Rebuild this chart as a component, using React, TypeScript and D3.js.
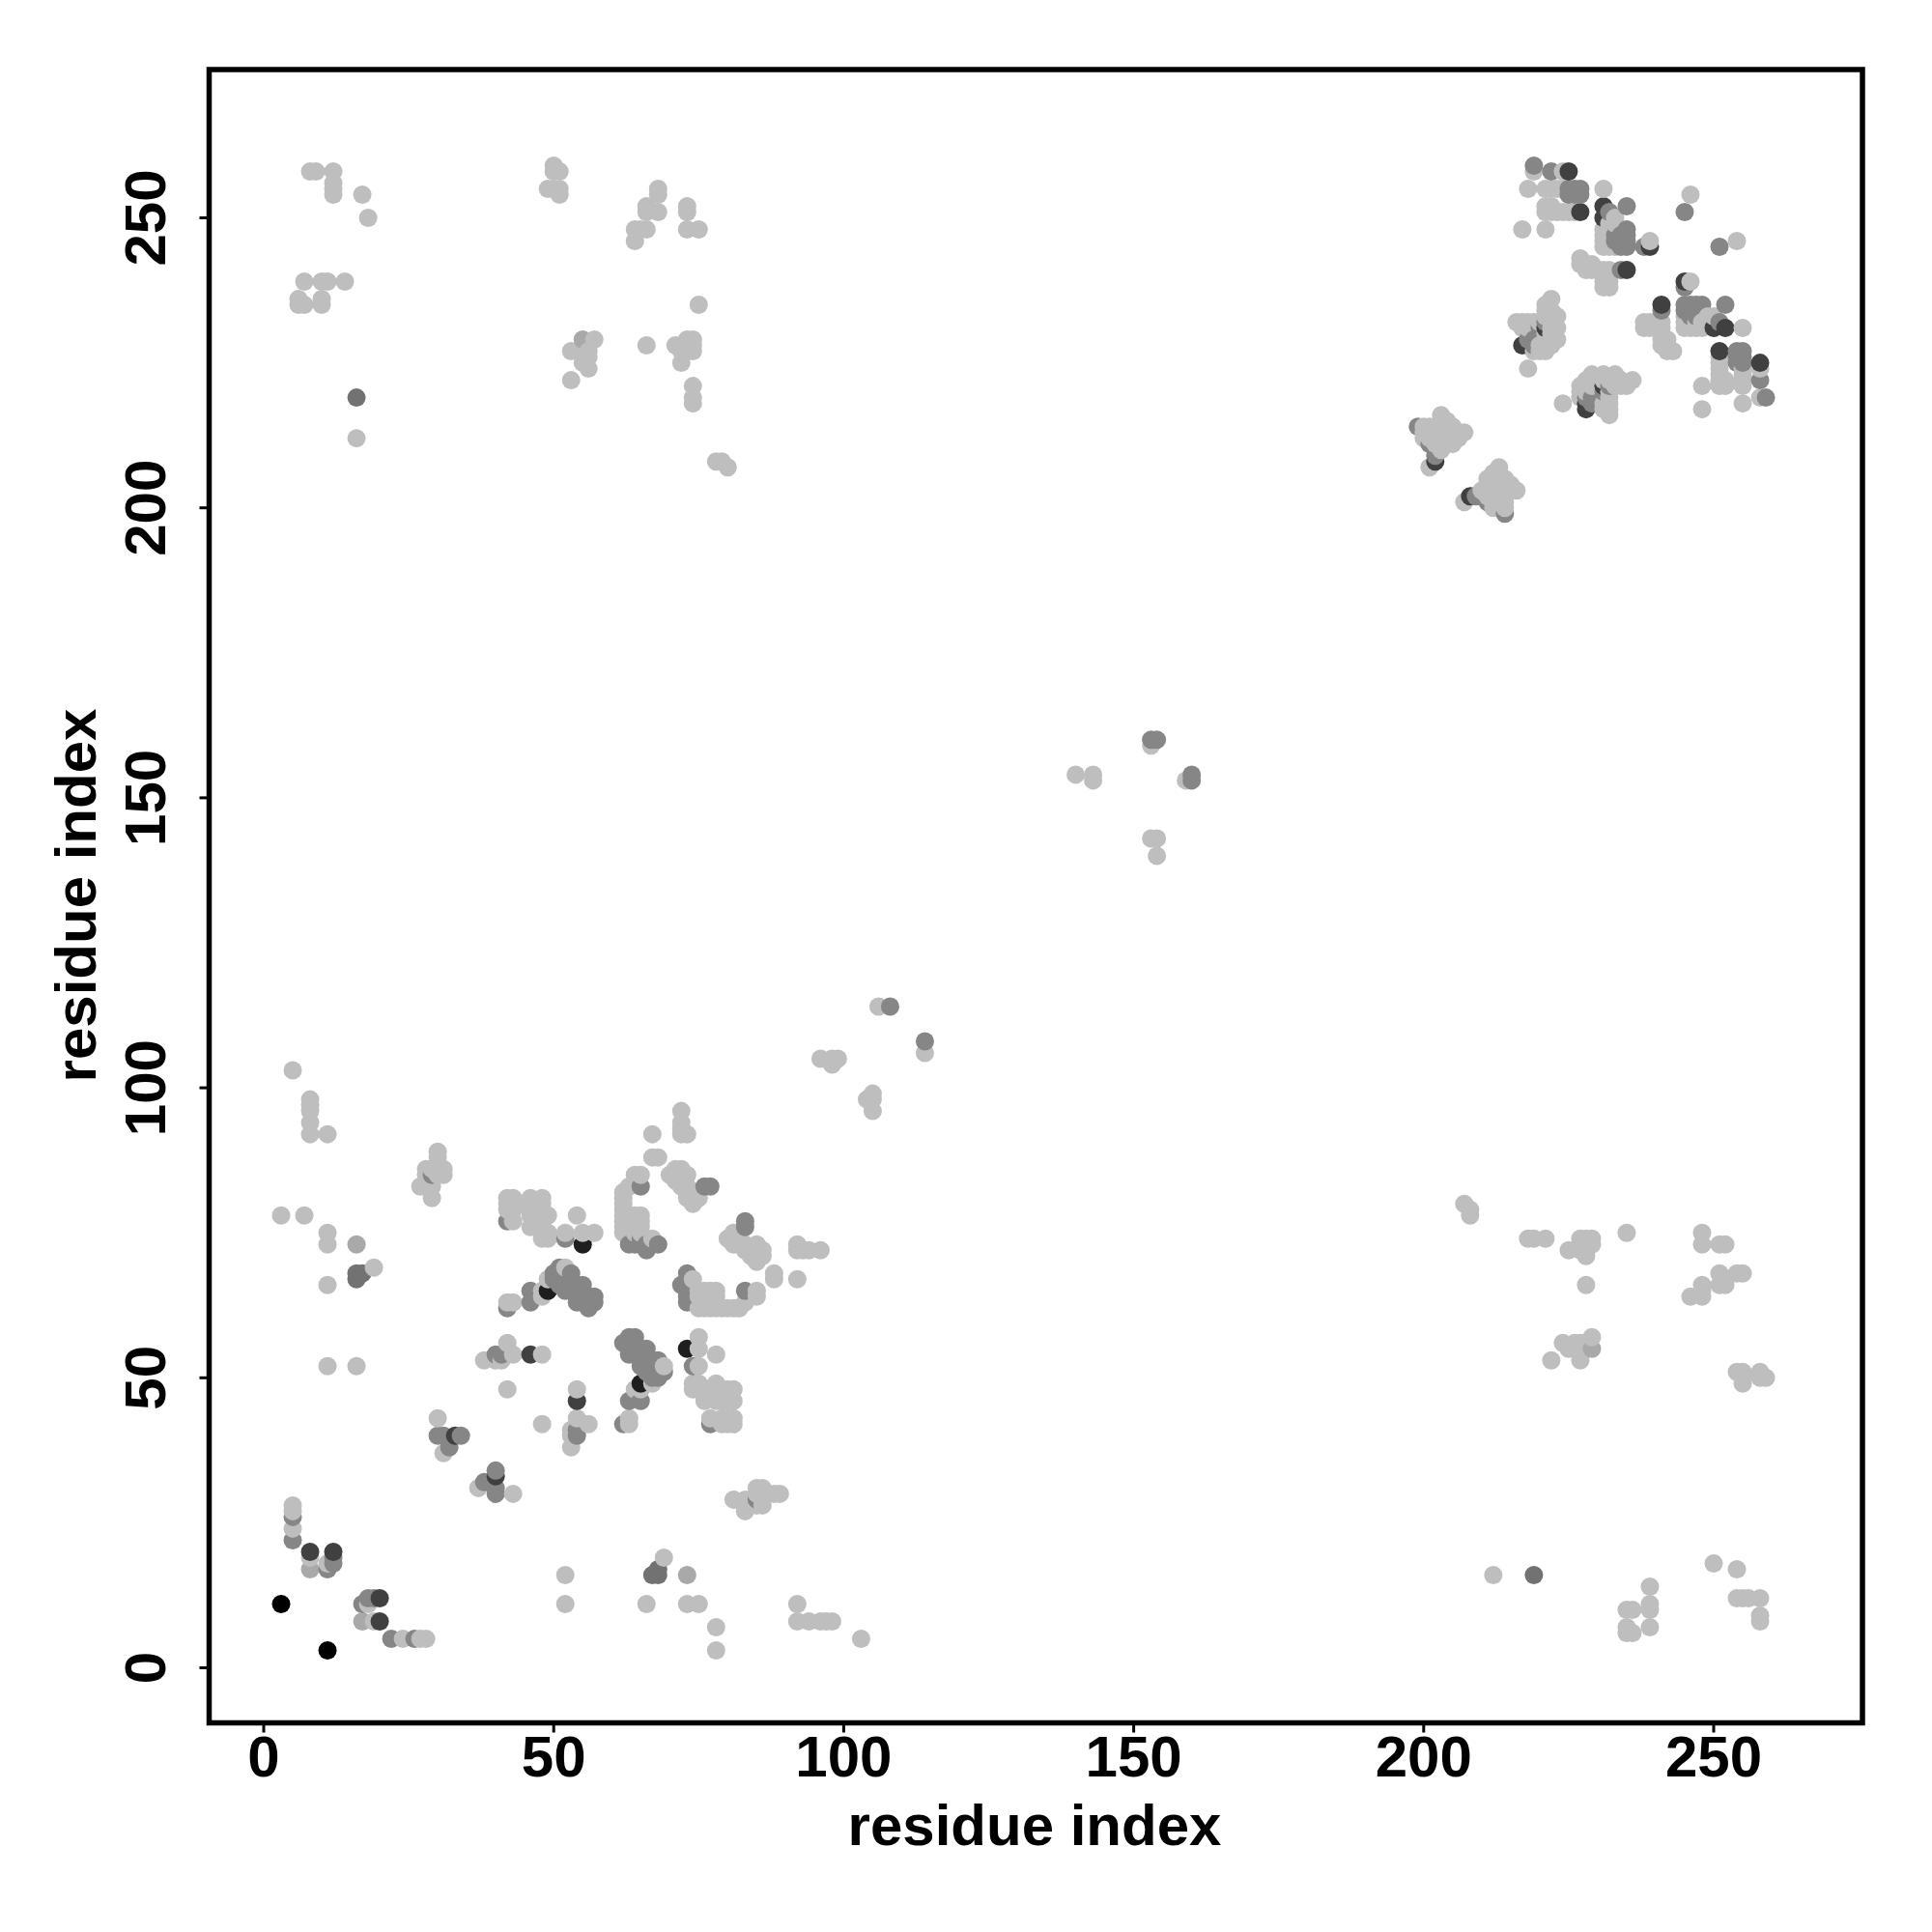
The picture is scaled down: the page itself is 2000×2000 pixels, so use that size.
import React from "react";
import * as d3 from "d3";

// Contacts between residues [i, j]; the map is symmetric, so each contact is drawn at (i,j) and (j,i).
const blackPairs = [[3, 11]];
const inkPairs = [[55, 73], [49, 65]];
const darkPairs = [
  [8, 20], [12, 20], [46, 54], [33, 40], [33, 40], [202, 208], [225, 258], [227, 251], [231, 252], [231, 250],
  [239, 245], [235, 241], [221, 231], [218, 228], [217, 228], [227, 251], [225, 258],
  [251, 227], [258, 225], [250, 231], [252, 231],
];
const slatePairs = [[16, 68], [17, 68], [16, 67], [16, 219]];
const midPairs = [
  [5, 22], [5, 26], [11, 17], [12, 18], [12, 19], [30, 40], [31, 40], [34, 40], [32, 38], [32, 39], [29, 85], [42, 77], [52, 74],
  [65, 83], [64, 74], [64, 73], [65, 73], [65, 74], [66, 72], [66, 73], [68, 73], [67, 73], [63, 73], [76, 83], [77, 83],
  [42, 62], [46, 65], [46, 63], [51, 69], [50, 68], [50, 67],
  [53, 68], [51, 66], [52, 65], [55, 66], [54, 65], [54, 63], [55, 63], [57, 64], [56, 62], [57, 63], [53, 67], [51, 67], [52, 67], [52, 66], [53, 66],
  [54, 66], [53, 65], [55, 65], [54, 64], [55, 64], [56, 64], [56, 63], [40, 54], [41, 54], [108, 114], [153, 160], [154, 160],
  [199, 214], [202, 209], [202, 210], [201, 211], [219, 259], [222, 258], [225, 255], [226, 255], [227, 255], [225, 254], [226, 254], [227, 254], [245, 251],
  [235, 252], [232, 251], [235, 248], [235, 247], [234, 245], [235, 245], [233, 247], [235, 246], [234, 247], [234, 246], [238, 245], [234, 241], [233, 246],
  [220, 231], [218, 229], [219, 228], [219, 229],
  [254, 227], [255, 227], [254, 225], [255, 225], [258, 222], [259, 219], [251, 232], [229, 218], [232, 221], [241, 234], [246, 233], [245, 238],
  [245, 235], [245, 234], [247, 235], [248, 235], [252, 235], [246, 235],
];
const softPairs = [[8, 17], [16, 73], [55, 229], [229, 55]];
const lightPairs = [
  [5, 24], [5, 27], [5, 28], [8, 19], [11, 18], [5, 103], [8, 98], [8, 97], [8, 96], [8, 94], [8, 92], [11, 92], [3, 78], [7, 78], [11, 75], [11, 73], [11, 66],
  [19, 69], [11, 52], [16, 52], [8, 258], [9, 258], [12, 258], [12, 256], [12, 255], [12, 254], [17, 254], [18, 250], [7, 239], [10, 239], [11, 239], [14, 239],
  [6, 236], [6, 235], [7, 235], [10, 236], [10, 235], [16, 212],
  [50, 259], [51, 258], [50, 258], [49, 255], [51, 255], [50, 255], [51, 254], [68, 255], [68, 254], [66, 252], [68, 251], [66, 251], [64, 248], [66, 248],
  [65, 248], [64, 246], [73, 252], [73, 251], [73, 248], [75, 248], [75, 235], [57, 229], [53, 227], [56, 227], [56, 226], [55, 225], [56, 224], [55, 227],
  [53, 222], [66, 228], [71, 228], [72, 225], [72, 227], [73, 229], [74, 229], [74, 227], [73, 227], [74, 228], [73, 228], [74, 221], [74, 219], [74, 218],
  [78, 208], [79, 208], [80, 207], [96, 105], [98, 104], [98, 105], [99, 105], [106, 114], [140, 154], [143, 154], [143, 153], [153, 159],
  [30, 89], [30, 88], [28, 86], [31, 86], [28, 85], [31, 85], [29, 86], [30, 86], [30, 85], [27, 83], [28, 83], [29, 83], [29, 81],
  [42, 81], [43, 81], [46, 81], [48, 81], [43, 79], [43, 77], [42, 80], [43, 80], [42, 79], [46, 80], [46, 79], [46, 78], [46, 76], [47, 80], [47, 79], [47, 78],
  [47, 77], [47, 76], [48, 80], [48, 79], [48, 76], [49, 78], [48, 75], [48, 74], [49, 74], [49, 75], [54, 78], [52, 75], [55, 75], [57, 75],
  [62, 81], [62, 80], [62, 79], [62, 78], [62, 77], [62, 76], [62, 75], [62, 82], [64, 85], [65, 85], [63, 83], [64, 78], [65, 78], [64, 77], [65, 77], [64, 76], [65, 76], [64, 75],
  [65, 75], [67, 74], [63, 78], [63, 76], [67, 88], [68, 88], [70, 85], [71, 85], [71, 86], [72, 86], [73, 85], [71, 84], [72, 83], [73, 82], [73, 81], [74, 80], [75, 82],
  [72, 84], [73, 83], [74, 82], [74, 81], [75, 81], [72, 85], [67, 92], [72, 92], [73, 92], [72, 94], [72, 96], [72, 93],
  [42, 63], [43, 63], [48, 65], [48, 64], [49, 67], [52, 69], [38, 53], [42, 56], [43, 54], [41, 53], [40, 53], [48, 54], [42, 48], [30, 43], [31, 37],
  [200, 214], [201, 214], [202, 214], [203, 216], [203, 215], [204, 214], [205, 214], [207, 213], [206, 213], [205, 212], [204, 211], [203, 210], [201, 212], [200, 213], [200, 212],
  [202, 213], [203, 214], [204, 213], [205, 213], [203, 212], [202, 212], [203, 211], [202, 211], [204, 212], [201, 213], [201, 207], [204, 215], [206, 212], [205, 211],
  [219, 258], [224, 258], [218, 255], [221, 255], [222, 255], [223, 255], [224, 255], [231, 255], [221, 252], [222, 252], [221, 251], [222, 251], [223, 251], [224, 251], [225, 251],
  [226, 251], [217, 248], [221, 248], [246, 254], [233, 250], [231, 248], [231, 247], [231, 246], [231, 245], [232, 245], [233, 249], [232, 248], [232, 247], [232, 246], [233, 245],
  [239, 246], [227, 243], [229, 242], [228, 241], [227, 242], [231, 241], [231, 240], [231, 238], [232, 238], [232, 240], [232, 239], [231, 239], [228, 242], [230, 241],
  [229, 241], [222, 236], [221, 235], [216, 232], [217, 232], [218, 232], [218, 231], [223, 233], [223, 231], [223, 229], [221, 233], [221, 234], [222, 234], [222, 233], [222, 232], [222, 231],
  [222, 230], [220, 232], [219, 232], [220, 228], [219, 227], [221, 227], [222, 229], [218, 224], [221, 228], [222, 228], [221, 230], [220, 227], [221, 229], [217, 231],
  [207, 80], [208, 78], [208, 79],
  [235, 10], [236, 10], [239, 14], [239, 11], [239, 10], [235, 7], [235, 6], [236, 6], [239, 7], [250, 18], [254, 17], [254, 12], [255, 12], [256, 12], [258, 12], [258, 9], [258, 8],
  [228, 66], [227, 74], [228, 74], [229, 74], [227, 73], [228, 73], [229, 73], [228, 71], [227, 72], [228, 72],
  [233, 223], [231, 223], [229, 223], [236, 222], [235, 221], [231, 218], [232, 218], [232, 216], [231, 217], [232, 217],
  [238, 232], [239, 232], [240, 231], [241, 232], [241, 229], [242, 229], [242, 227], [243, 227], [245, 232], [246, 231], [247, 231], [248, 232], [248, 231],
  [249, 233], [249, 232], [255, 231], [258, 224], [258, 219], [251, 224], [251, 222], [251, 221], [252, 221], [248, 221], [255, 223], [255, 222], [255, 221], [255, 218], [248, 217],
  [251, 223], [252, 222],
];

const tickValues = [0, 50, 100, 150, 200, 250];
const axisLabel = "residue index";

const groups = [
  { pairs: lightPairs, color: "#bebebe" },
  { pairs: softPairs, color: "#a9a9a9" },
  { pairs: midPairs, color: "#868686" },
  { pairs: slatePairs, color: "#727272" },
  { pairs: darkPairs, color: "#404040" },
  { pairs: inkPairs, color: "#1e1e1e" },
  { pairs: blackPairs, color: "#000000" },
];

const x = d3.scaleLinear().domain([0, 250]).range([273, 1774]);
const y = d3.scaleLinear().domain([0, 250]).range([1726.5, 225.5]);
const frame = { left: 216.5, right: 1928, top: 72, bottom: 1783.5 };
const font = "'Liberation Sans', Arial, sans-serif";

function buildPoints() {
  const byKey = new Map<string, { a: number; b: number; color: string }>();
  for (const g of groups) {
    for (const [p, q] of g.pairs) {
      byKey.set(`${p},${q}`, { a: p, b: q, color: g.color });
      byKey.set(`${q},${p}`, { a: q, b: p, color: g.color });
    }
  }
  return Array.from(byKey.values()).sort(
    (m, n) => d3.ascending(m.a, n.a) || d3.ascending(m.b, n.b)
  );
}

export default function App() {
  const points = buildPoints();
  return (
    <svg
      width={2000}
      height={2000}
      viewBox="0 0 2000 2000"
      style={{ position: "absolute", left: 0, top: 0, display: "block", background: "#fff" }}
    >
      {points.map((d) => (
        <circle key={`${d.a}-${d.b}`} cx={x(d.a)} cy={y(d.b)} r={9.5} fill={d.color} />
      ))}
      <rect
        x={frame.left}
        y={frame.top}
        width={frame.right - frame.left}
        height={frame.bottom - frame.top}
        fill="none"
        stroke="#000"
        strokeWidth={5.5}
      />
      {tickValues.map((t) => (
        <g key={t} fontFamily={font} fontWeight="bold" fontSize={60} fill="#000">
          <line x1={x(t)} x2={x(t)} y1={frame.bottom} y2={frame.bottom + 10} stroke="#000" strokeWidth={3} />
          <text x={x(t)} y={1839} textAnchor="middle">{t}</text>
          <line x1={frame.left - 10} x2={frame.left} y1={y(t)} y2={y(t)} stroke="#000" strokeWidth={3} />
          <text transform={`translate(171,${y(t)}) rotate(-90)`} textAnchor="middle">{t}</text>
        </g>
      ))}
      <text x={1071} y={1910} textAnchor="middle" fontFamily={font} fontWeight="bold" fontSize={60}>
        {axisLabel}
      </text>
      <text
        transform="translate(99,927) rotate(-90)"
        textAnchor="middle"
        fontFamily={font}
        fontWeight="bold"
        fontSize={60}
      >
        {axisLabel}
      </text>
    </svg>
  );
}
